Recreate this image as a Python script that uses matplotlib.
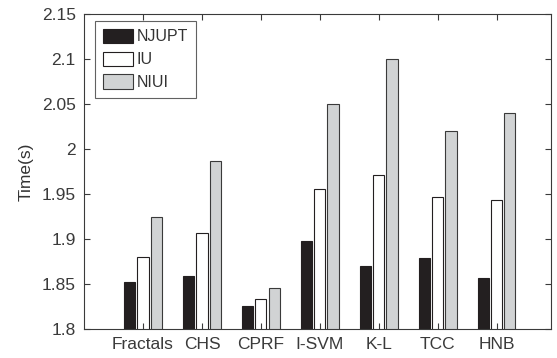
import numpy as np
import matplotlib.pyplot as plt

plt.rcParams.update({
    "font.family": "sans-serif", "font.sans-serif": ["Liberation Sans", "DejaVu Sans"],
    "font.size": 12.5, "axes.edgecolor": "#3a3a3a", "xtick.color": "#3a3a3a",
    "ytick.color": "#3a3a3a", "text.color": "#333333", "axes.labelcolor": "#333333",
})

methods = ["Fractals", "CHS", "CPRF", "I-SVM", "K-L", "TCC", "HNB"]
njupt = [1.852, 1.859, 1.825, 1.898, 1.870, 1.879, 1.857]
iu = [1.880, 1.907, 1.833, 1.956, 1.971, 1.947, 1.943]
niui = [1.924, 1.987, 1.846, 2.050, 2.100, 2.020, 2.040]
yticks = [1.8, 1.85, 1.9, 1.95, 2, 2.05, 2.1, 2.15]

x = np.arange(1, len(methods) + 1)
w = 0.19
step = 0.225

fig = plt.figure(figsize=(5.57, 3.58), dpi=100)
ax = fig.add_axes([0.151, 0.081, 0.839, 0.880])
ax.bar(x - step, njupt, w, color="#231f20", edgecolor="#231f20", lw=0.8, label="NJUPT")
ax.bar(x, iu, w, color="white", edgecolor="#231f20", lw=0.8, label="IU")
ax.bar(x + step, niui, w, color="#d1d3d4", edgecolor="#3a3a3a", lw=0.8, label="NIUI")

ax.set_xlim(0, 7.93)
ax.set_ylim(1.8, 2.15)
ax.set_xticks(x)
ax.set_xticklabels(methods)
ax.set_yticks(yticks)
ax.set_yticklabels([f"{v:g}" for v in yticks])
ax.tick_params(direction="in", top=True, right=True, length=4, width=0.8, pad=6)
ax.set_ylabel("Time(s)", labelpad=6)

leg = ax.legend(loc="upper left", bbox_to_anchor=(0.023, 0.978), fontsize=11.5,
                frameon=True, fancybox=False, edgecolor="#3a3a3a",
                handlelength=1.9, handleheight=1.0, handletextpad=0.2,
                labelspacing=0.45, borderpad=0.5, borderaxespad=0)
leg.get_frame().set_linewidth(0.8)

plt.savefig("out.png", dpi=100)
